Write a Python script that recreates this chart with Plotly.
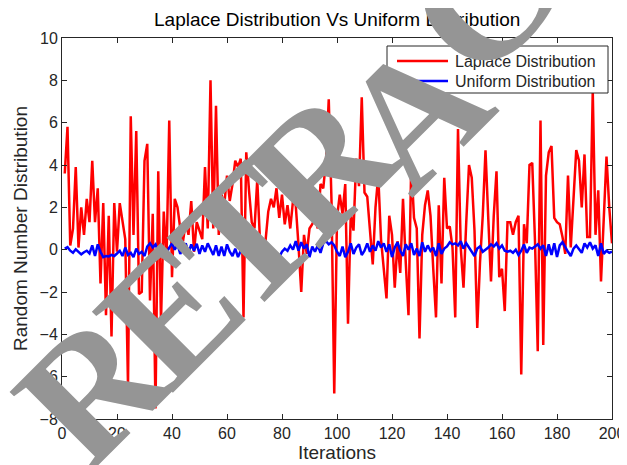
import plotly.graph_objects as go

iterations = list(range(1, 201))

laplace = [
    3.6, 5.8, 0.2, 1.0, 3.9, 0.1, 2.0, 0.7, 2.4, 1.3,
    4.2, 1.3, 2.9, -1.6, 2.2, -3.1, 1.6, -4.1, 2.2, -0.1,
    2.2, 1.3, 0.5, -6.4, 6.3, 0.7, 5.6, -2.1, -2.0, 4.2,
    5.0, -2.4, 1.7, -7.5, 3.7, -3.4, 1.8, -0.5, 6.1, -1.3,
    2.4, 2.0, 1.0, 0.4, 1.3, 0.7, 2.3, -0.1, 1.3, 0.9,
    0.5, 3.9, 1.0, 8.0, 1.0, 6.8, 0.7, 2.6, 2.1, 3.5,
    2.3, 3.1, 4.2, 3.9, 4.3, -3.2, 4.6, 2.8, 1.3, 1.0,
    3.3, 0.4, 0.1, 0.4, 1.8, 2.4, 2.0, 2.9, 1.5, 2.6,
    1.2, 2.1, 1.0, 2.3, 2.1, 0.2, -2.0, 0.7, -0.2, 1.0,
    1.2, 1.5, 1.0, 3.1, 2.9, 4.2, 7.1, 2.3, -6.8, 1.5,
    2.6, 1.7, 3.1, -3.5, 1.7, 0.9, 4.3, 3.0, 7.2, 2.7,
    2.5, 0.9, -0.7, 2.0, 3.5, 0.5, -0.9, -2.3, 1.6, 0.7,
    -1.8, 0.4, -1.1, 2.4, -0.6, -3.1, 4.1, 1.5, 1.0, -4.2,
    0.7, 2.1, 2.8, 1.6, -0.9, -3.2, 2.1, -1.6, 3.4, 1.0,
    1.1, 0.1, -3.2, 5.7, 0.1, -1.8, 1.3, 4.0, 3.4, 0.9,
    -3.7, -0.6, 1.6, 4.7, 1.5, -1.5, 1.6, 3.7, -1.3, -0.9,
    -2.9, 1.3, 1.3, 0.7, 1.3, 1.6, -5.9, 1.2, 0.3, 4.0,
    4.1, 0.4, -4.8, 6.1, -4.5, 3.5, 4.6, 4.9, 1.5, 1.3,
    1.2, 0.6, -0.2, 3.5, 0.1, 2.3, 4.7, 4.2, 2.0, 4.5,
    0.6, 0.6, 7.5, 0.7, 2.8, -1.5, 1.3, 4.4, 2.0, 0.3,
]

uniform = [
    0.05, 0.12, -0.05, -0.15, 0.02, -0.10, -0.22, -0.12, -0.05, -0.18,
    0.20, -0.30, 0.25, -0.10, -0.35, -0.30, -0.32, -0.25, -0.30, -0.18,
    -0.05, -0.30, 0.10, -0.25, -0.15, -0.35, 0.05, -0.20, -0.10, -0.30,
    0.15, 0.30, 0.10, 0.25, -0.10, 0.20, 0.05, -0.15, 0.10, 0.30,
    0.00, 0.25, -0.20, 0.10, 0.30, -0.15, 0.25, -0.05, 0.28, -0.20,
    0.20, -0.10, 0.30, 0.05, -0.25, 0.20, -0.30, 0.15, -0.30, 0.25,
    -0.10, -0.30, 0.05, -0.35, -0.05, 0.10, -0.25, -0.15, 0.00, -0.30,
    0.25, 0.30, 0.15, 0.25, 0.20, 0.05, -0.15, -0.40, -0.35, -0.10,
    0.05, -0.05, 0.20, 0.00, 0.40, -0.05, 0.35, 0.05, 0.25, -0.35,
    0.15, -0.10, 0.20, -0.15, 0.30, 0.40, 0.25, 0.35, 0.20, -0.10,
    -0.30, 0.15, -0.35, -0.10, 0.30, -0.20, 0.10, 0.25, -0.25, -0.05,
    0.30, -0.10, 0.20, -0.05, 0.40, 0.10, 0.30, -0.10, 0.25, -0.35,
    0.10, 0.35, -0.05, -0.30, 0.25, 0.00, 0.30, -0.25, 0.05, -0.30,
    0.35, -0.10, 0.20, -0.05, 0.10, -0.30, 0.30, -0.20, 0.05, 0.15,
    0.35, 0.25, 0.30, 0.20, 0.40, 0.05, 0.30, 0.10, -0.15, -0.30,
    0.05, 0.15, -0.10, 0.00, 0.10, 0.25, 0.15, 0.30, 0.05, 0.20,
    -0.05, -0.10, -0.05, -0.15, 0.00, -0.25, -0.05, 0.25, -0.15, 0.10,
    0.05, 0.15, 0.25, 0.05, 0.20, -0.30, 0.25, -0.25, 0.30, -0.35,
    0.20, 0.35, 0.10, -0.10, -0.30, 0.05, 0.20, 0.00, -0.15, 0.30,
    0.10, 0.35, 0.05, 0.20, -0.30, 0.30, -0.20, -0.05, -0.15, -0.10,
]

series_names = ["Laplace Distribution", "Uniform Distribution"]
series_colors = ["#ff0000", "#0000ff"]
x_ticks = list(range(0, 201, 20))
y_ticks = list(range(-8, 11, 2))
watermark_letters = ["R", "E", "T", "R", "A", "C"]
# page-pixel centres of watermark letters
wm_px = [(92, 388), (170, 312), (245, 238), (320, 165), (414, 113), (481, 1)]

OFF = 8  # default page body margin
W, H = 627, 465
PL, PR, PT, PB = 62, 612, 38, 419  # plot area in page pixels
L = PL - OFF
T = PT - OFF
R = W - (PR - OFF)
B = H - (PB - OFF)
pw, ph = PR - PL, PB - PT

def px2paper(x, y):
    return (x - PL) / pw, (PB - y) / ph

fig = go.Figure()
for name, vals, col in zip(series_names, [laplace, uniform], series_colors):
    fig.add_trace(go.Scatter(x=iterations, y=vals, mode="lines", name=name,
                             line=dict(color=col, width=2.5), showlegend=False))

axis_common = dict(showline=True, linecolor="#262626", linewidth=1, mirror="ticks",
                   ticks="inside", ticklen=5, tickcolor="#262626", showgrid=False,
                   zeroline=False, automargin=False,
                   tickfont=dict(family="Liberation Sans, Arial", size=16, color="#262626"))
fig.update_xaxes(range=[0, 200], tickvals=x_ticks, **axis_common,
                 title=dict(text="Iterations", font=dict(family="Liberation Sans, Arial", size=19, color="#262626"), standoff=2))
fig.update_yaxes(range=[-8, 10], tickvals=y_ticks, **axis_common,
                 title=dict(text="Random Number Distribution", font=dict(family="Liberation Sans, Arial", size=19, color="#262626"), standoff=6))

shapes = []
annotations = []
# custom legend
x0, y0 = px2paper(387, 93)
x1, y1 = px2paper(608, 46)
shapes.append(dict(type="rect", xref="paper", yref="paper", x0=x0, y0=y0, x1=x1, y1=y1,
                   line=dict(color="#262626", width=1), fillcolor="white", layer="above"))
for i, (name, col) in enumerate(zip(series_names, series_colors)):
    yy = 61 + 20 * i
    lx0, ly = px2paper(397, yy)
    lx1, _ = px2paper(448, yy)
    shapes.append(dict(type="line", xref="paper", yref="paper", x0=lx0, x1=lx1, y0=ly, y1=ly,
                       line=dict(color=col, width=2.5), layer="above"))
    tx, ty = px2paper(453, yy)
    annotations.append(dict(xref="paper", yref="paper", x=tx, y=ty, text=name, showarrow=False,
                            xanchor="left", yanchor="middle",
                            font=dict(family="Liberation Sans, Arial", size=16, color="#262626")))
# title as annotation
tx, ty = px2paper(337, 19)
annotations.append(dict(xref="paper", yref="paper", x=tx, y=ty, text="Laplace Distribution Vs Uniform Distribution",
                        showarrow=False, xanchor="center", yanchor="middle",
                        font=dict(family="Liberation Sans, Arial", size=19, color="#000000")))
# watermark
for letter, (cx, cy) in zip(watermark_letters, wm_px):
    ax, ay = px2paper(cx, cy)
    annotations.append(dict(xref="paper", yref="paper", x=ax, y=ay, text="<b>" + letter + "</b>",
                            showarrow=False, xanchor="center", yanchor="middle", textangle=-45,
                            font=dict(family="Liberation Serif, Times New Roman", size=175, color="#959595")))

fig.update_layout(width=W, height=H, margin=dict(l=L, r=R, t=T, b=B, autoexpand=False),
                  paper_bgcolor="white", plot_bgcolor="white",
                  shapes=shapes, annotations=annotations, showlegend=False)
fig.write_html("out.html")
